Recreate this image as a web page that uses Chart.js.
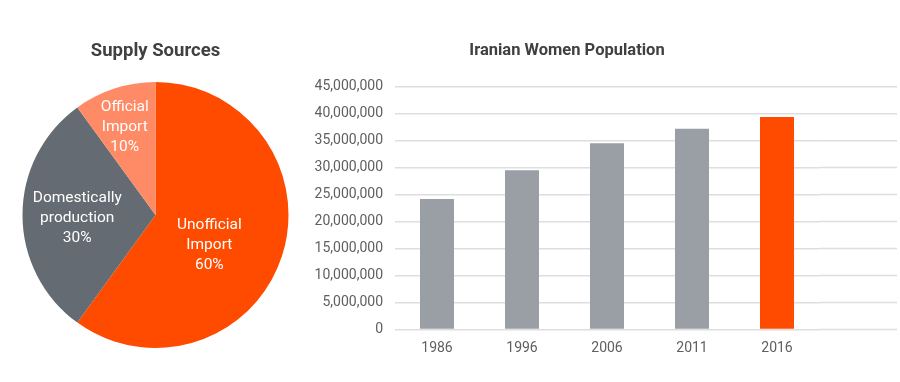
<!DOCTYPE html>
<html>
<head>
<meta charset="utf-8">
<script src="https://cdn.jsdelivr.net/npm/chart.js@4"></script>
<style>
  html, body { margin: 0; padding: 0; background: #fff; width: 900px; height: 382px; overflow: hidden; }
  #pieWrap { position: absolute; left: 0; top: 0; width: 324px; height: 382px; }
  #barWrap { position: absolute; left: 244px; top: 0; width: 656px; height: 382px; }
</style>
</head>
<body>
<div id="pieWrap"><canvas id="pie"></canvas></div>
<div id="barWrap"><canvas id="bar"></canvas></div>
<script>
// ---- Data ----
const pieTitle = 'Supply Sources';
const pieCategories = ['Unofficial Import', 'Domestically production', 'Official Import'];
const pieLabelLines = [['Unofficial', 'Import', '60%'], ['Domestically', 'production', '30%'], ['Official', 'Import', '10%']];
const pieValues = [60, 30, 10];
const pieColors = ['#FF4B00', '#656B72', '#FF8A66'];

const barTitle = 'Iranian Women Population';
const years = ['1986', '1996', '2006', '2011', '2016'];
const population = [24200000, 29500000, 34500000, 37200000, 39400000];
const barColors = ['#9A9EA5', '#9A9EA5', '#9A9EA5', '#9A9EA5', '#FF4B00'];

const FONT = 'Roboto, "Liberation Sans", Arial, sans-serif';

// Pie labels drawn through arc geometry
const pieLabelPlugin = {
  id: 'pieLabels',
  afterDatasetsDraw(chart, args, opts) {
    const ctx = chart.ctx;
    const meta = chart.getDatasetMeta(0);
    ctx.save();
    ctx.fillStyle = '#fff';
    ctx.font = '15.5px ' + FONT;
    ctx.textAlign = 'center';
    ctx.textBaseline = 'middle';
    meta.data.forEach((arc, i) => {
      const p = arc.getProps(['x', 'y', 'startAngle', 'endAngle', 'outerRadius'], true);
      const pl = opts.placement[i];
      const a = (p.startAngle + p.endAngle) / 2 + pl.da * Math.PI / 180;
      const r = p.outerRadius * pl.r;
      const cx = p.x + Math.cos(a) * r;
      const cy = p.y + Math.sin(a) * r;
      const lines = pieLabelLines[i];
      const lh = 20;
      lines.forEach((t, k) => {
        ctx.fillText(t, cx, cy + (k - (lines.length - 1) / 2) * lh);
      });
    });
    ctx.restore();
  }
};

new Chart(document.getElementById('pie'), {
  type: 'pie',
  data: {
    labels: pieCategories,
    datasets: [{ data: pieValues, backgroundColor: pieColors, borderWidth: 0 }]
  },
  options: {
    responsive: true,
    maintainAspectRatio: false,
    animation: false,
    layout: { padding: { left: 22, right: 35, top: 0, bottom: 34 } },
    plugins: {
      legend: { display: false },
      tooltip: { enabled: false },
      title: {
        display: true, text: pieTitle, color: '#404040',
        font: { family: FONT, size: 18.5, weight: 'bold', lineHeight: 1.2 },
        padding: { top: 40, bottom: 19.8 }
      },
      pieLabels: {
        placement: [{ r: 0.465, da: 11.5 }, { r: 0.589, da: -2.6 }, { r: 0.70, da: -1.3 }]
      }
    }
  },
  plugins: [pieLabelPlugin]
});

// Extend horizontal gridlines to the right edge, using the y scale
const gridExtend = {
  id: 'gridExtend',
  beforeDatasetsDraw(chart) {
    const y = chart.scales.y;
    const ctx = chart.ctx;
    ctx.save();
    ctx.strokeStyle = '#dedede';
    ctx.lineWidth = 1.5;
    y.ticks.forEach(t => {
      const py = y.getPixelForValue(t.value);
      ctx.beginPath();
      ctx.moveTo(chart.chartArea.right, py);
      ctx.lineTo(chart.width - 3, py);
      ctx.stroke();
    });
    ctx.restore();
  }
};

new Chart(document.getElementById('bar'), {
  type: 'bar',
  data: {
    labels: years,
    datasets: [{ data: population, backgroundColor: barColors, borderWidth: 0,
                 barPercentage: 0.4, categoryPercentage: 1.0 }]
  },
  options: {
    responsive: true,
    maintainAspectRatio: false,
    animation: false,
    layout: { padding: { left: 70.5, right: 80.5, top: 0, bottom: 14.6 } },
    plugins: {
      legend: { display: false },
      tooltip: { enabled: false },
      title: {
        display: true, text: barTitle, color: '#404040',
        font: { family: FONT, size: 16.5, weight: 'bold', lineHeight: 1.2 },
        padding: { top: 41, bottom: 25.9 }
      }
    },
    scales: {
      x: {
        grid: { display: false, drawTicks: false },
        border: { display: false },
        ticks: { color: '#5f5f5f', font: { family: FONT, size: 14 }, padding: 10.6 }
      },
      y: {
        min: 0, max: 45000000,
        afterFit(scale) { scale.width = 80; },
        grid: { color: '#dedede', lineWidth: 1.5, drawTicks: false },
        border: { display: false },
        ticks: {
          stepSize: 5000000, color: '#5f5f5f', padding: 11.5,
          font: { family: FONT, size: 14 },
          callback: v => Number(v).toLocaleString('en-US')
        }
      }
    }
  },
  plugins: [gridExtend]
});
</script>
</body>
</html>
